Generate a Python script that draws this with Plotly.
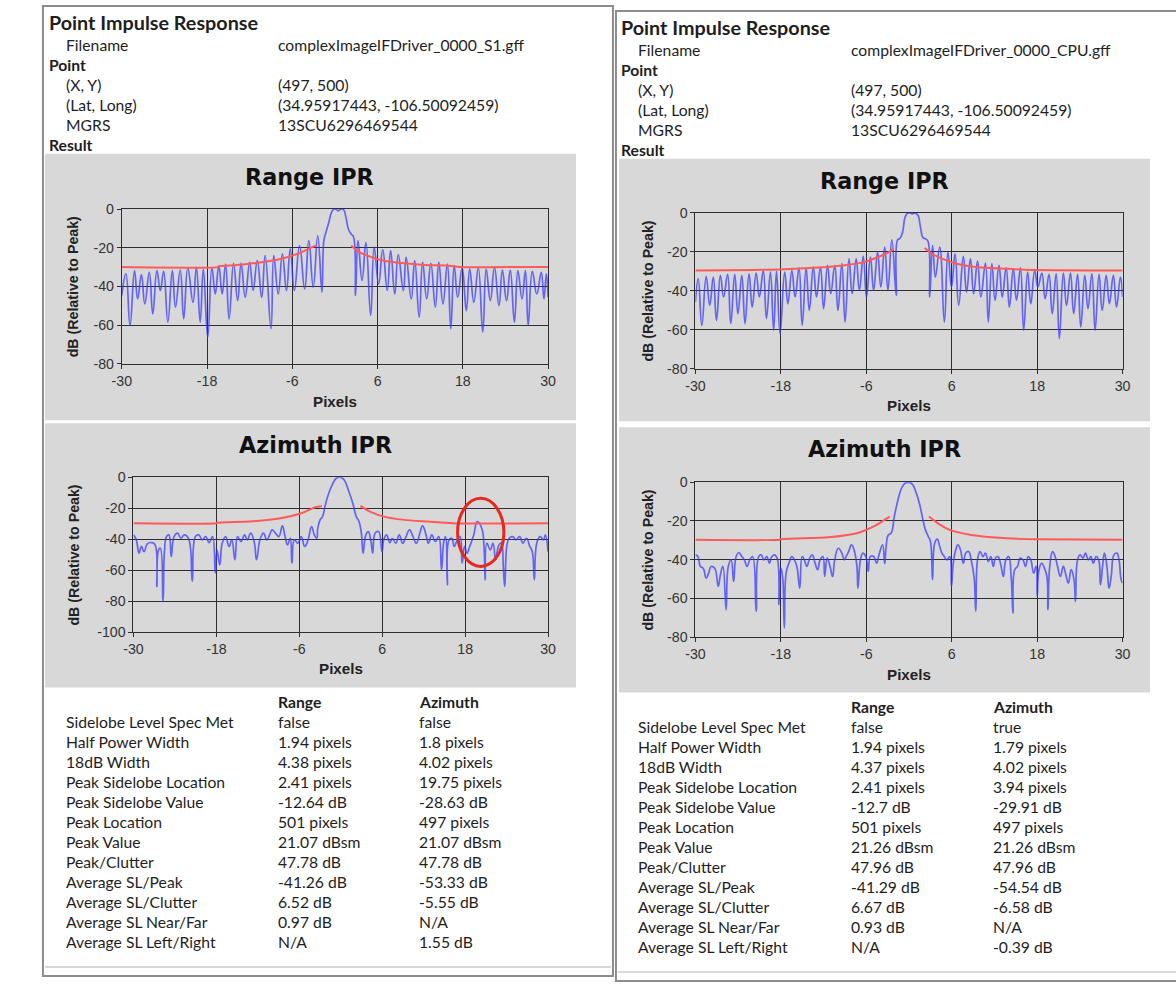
import plotly.graph_objects as go

# ---------------- data ----------------
X_TICKS = [-30, -18, -6, 6, 18, 30]
X_TICKTEXT = ["-30", "-18", "-6", "6", "18", "30"]
Y_TICKS_80 = [0, -20, -40, -60, -80]
Y_TICKTEXT_80 = ["0", "-20", "-40", "-60", "-80"]
Y_TICKS_100 = [0, -20, -40, -60, -80, -100]
Y_TICKTEXT_100 = ["0", "-20", "-40", "-60", "-80", "-100"]

# Left (S1) Range IPR
LR_X = [-30.0, -29.42, -28.84, -28.21, -27.77, -27.24, -26.76, -26.13, -25.64, -25.06, -24.58, -24.10, -23.52,
        -22.89, -22.45, -21.77, -21.29, -20.71, -19.98, -19.50, -18.97, -18.53, -17.90, -17.32, -16.84, -16.35,
        -15.87, -15.39, -14.90, -14.27, -13.69, -13.21, -12.63, -12.00, -11.52, -10.93, -10.31, -9.82, -9.00,
        -8.61, -7.98, -7.40, -6.82, -6.29, -5.71, -4.98, -4.26, -3.68, -3.05, -2.42, -1.83,
        -1.55, -1.26, -0.87, -0.48, -0.14, 0.20, 0.49, 0.82, 1.21, 1.55, 1.89, 2.28, 2.61,
        2.90, 3.24, 3.82, 4.36, 5.03, 5.52, 6.15, 6.73, 7.36, 7.84, 8.42, 8.91, 9.63, 10.02, 10.74, 11.23,
        11.86, 12.34, 12.92, 13.50, 14.13, 14.62, 15.20, 15.83, 16.31, 16.79, 17.28, 17.91, 18.49, 18.97,
        19.55, 20.18, 20.81, 21.29, 21.87, 22.46, 23.09, 23.57, 24.15, 24.68, 25.26, 25.75, 26.33, 26.81,
        27.20, 27.78, 28.41, 29.04, 29.42, 29.76, 30.0]
LR_Y = [-44.7, -33.5, -60.2, -31.8, -46.4, -33.9, -49.0, -32.7, -54.2, -31.8, -42.1, -32.2, -58.5,
        -31.8, -50.7, -31.5, -56.8, -30.4, -48.2, -30.1, -58.5, -31.0, -66.2, -30.4, -43.9, -29.2,
        -43.9, -28.4, -56.8, -28.0, -47.3, -28.0, -45.6, -27.5, -42.1, -26.7, -45.6, -24.1, -61.9,
        -24.1, -43.9, -23.2, -42.1, -20.6, -42.1, -18.9, -41.3, -16.3, -40.4, -13.8, -43.0,
        -16.0, -12.0, -6.9, -1.7, 0.0, -0.2, -0.9, 0.0, -0.3, -4.3, -10.3, -12.9, -14.3,
        -44.7, -16.3, -37.0, -17.2, -55.0, -19.8, -38.7, -21.0, -42.1, -21.5, -43.9, -23.6, -42.1, -24.9,
        -46.4, -26.7, -55.9, -27.5, -46.4, -28.0, -50.7, -27.5, -49.0, -28.4, -61.9, -29.2, -45.6, -30.4,
        -52.5, -31.0, -48.2, -30.4, -63.6, -31.0, -47.3, -30.1, -49.9, -31.5, -47.3, -31.5, -58.5, -31.8,
        -46.4, -31.8, -60.2, -32.2, -43.9, -32.7, -46.4, -33.5, -45.6]
LR_RED_X = [-30.0, -16.5, -16.2, -14.0, -12.0, -10.55, -7.64, -4.74, -3.29, -2.56, None,
            2.28, 3.49, 4.94, 6.87, 9.78, 12.68, 16.07, 17.52, 30.0]
LR_RED_Y = [-30.0, -30.0, -29.4, -29.0, -28.2, -27.6, -25.8, -22.4, -19.8, -18.6, None,
            -18.9, -22.4, -24.6, -26.7, -28.0, -28.9, -29.3, -29.9, -29.9]

# Left (S1) Azimuth IPR
LA_X = [-30.0, -29.60, -29.20, -28.86, -28.46, -28.01, -27.36, -26.87, -26.62, -26.37, -26.12, -25.72, -25.52,
        -25.22, -24.88, -24.53, -24.13, -23.63, -23.13, -22.64, -22.04, -21.49, -21.04, -20.55, -20.05, -19.55,
        -19.06, -18.56, -18.16, -17.91, -17.51, -17.16, -16.67, -16.17, -15.77, -15.32, -14.93, -14.43, -13.93,
        -13.53, -13.04, -12.54, -12.19, -11.69, -11.19, -10.70, -10.30, -9.95, -9.45, -8.96, -8.46, -8.06,
        -7.71, -7.31, -7.07, -6.72, -6.22, -5.72, -5.22, -4.73, -4.23, -3.83, -3.48,
        -3.33, -2.99, -2.64, -2.24, -1.74, -1.24, -0.65, 0.0, 0.50, 1.09, 1.74, 2.24, 2.64, 2.98, 3.23,
        3.63, 3.98, 4.33, 4.63, 4.97, 5.47, 5.97, 6.22, 6.62, 7.11, 7.46, 7.96, 8.46, 8.95, 9.45, 9.95,
        10.45, 10.94, 11.44, 11.84, 12.34, 12.69, 13.18, 13.68, 14.18, 14.58, 14.92, 15.17, 15.42, 15.67,
        16.07, 16.42, 16.77, 17.26, 17.56, 17.91, 18.26, 18.66, 19.25, 19.75, 20.40, 20.75, 20.89, 21.14,
        21.64, 22.04, 22.39, 22.64, 22.89, 23.23, 23.53, 23.73, 24.03, 24.38, 24.87, 25.37, 25.87, 26.37,
        26.86, 27.36, 27.71, 28.01, 28.36, 28.85, 29.35, 29.60, 30.0]
LA_Y = [-37.2, -40.4, -49.0, -44.7, -48.0, -43.0, -42.2, -43.7, -70.6, -46.9, -45.8, -80.2, -48.0,
        -38.3, -37.2, -51.2, -38.3, -36.1, -39.4, -37.2, -39.4, -67.3, -38.3, -37.2, -40.4, -38.3,
        -42.2, -38.3, -62.0, -47.0, -56.6, -42.6, -38.3, -44.7, -40.4, -53.3, -38.3, -41.5, -37.2,
        -40.4, -36.1, -41.5, -53.3, -40.4, -36.1, -40.4, -37.2, -34.0, -36.1, -38.3, -31.4, -38.3,
        -43.7, -39.4, -55.5, -40.4, -42.6, -38.3, -44.7, -40.4, -31.8, -37.2, -39.4,
        -32.9, -27.5, -25.4, -17.9, -10.3, -4.9, -0.6, 0.0, -1.7, -8.2, -16.8, -25.4, -28.6, -36.1, -49.0,
        -37.2, -35.1, -40.4, -49.0, -36.1, -35.1, -48.0, -40.4, -37.2, -42.2, -39.4, -42.6, -37.2, -42.6,
        -38.3, -34.0, -38.3, -42.6, -36.1, -31.4, -37.2, -42.6, -37.2, -41.5, -38.3, -59.8, -41.5, -38.3,
        -69.5, -40.4, -39.4, -44.7, -41.5, -38.3, -55.5, -44.7, -49.0, -44.7, -37.2, -28.6, -32.9, -46.9,
        -66.3, -42.6, -46.9, -42.6, -53.3, -48.0, -43.7, -42.6, -58.7, -70.6, -44.7, -39.4, -38.3, -40.4,
        -38.3, -42.6, -39.4, -44.7, -48.0, -66.3, -42.6, -38.3, -40.4, -37.2, -48.0]
LA_RED_X = [-30.0, -18.0, -17.9, -13.18, -8.71, -5.72, -3.73, -2.74, None,
            2.84, 4.23, 6.22, 9.2, 12.69, 16.17, 30.0]
LA_RED_Y = [-29.7, -29.7, -29.4, -28.6, -26.5, -23.2, -19.4, -18.5, None,
            -18.5, -22.2, -25.4, -27.5, -28.6, -29.7, -29.7]
# highlight ellipse around the peak sidelobe (x0, x1, y0, y1) in data units
LA_CIRCLE = [16.9, 23.6, -57.6, -13.6]

# Right (CPU) Range IPR
RR_X = [-30.0, -29.60, -29.10, -28.49, -27.99, -27.49, -27.04, -26.49, -26.04, -25.48, -25.03, -24.48, -24.03,
        -23.48, -23.03, -22.47, -22.02, -21.47, -21.02, -20.47, -20.02, -19.46, -19.01, -18.61, -18.11, -17.46,
        -17.01, -16.45, -16.00, -15.45, -15.00, -14.45, -14.00, -13.44, -12.99, -12.44, -11.99, -11.44, -10.99,
        -10.43, -9.98, -9.43, -8.98, -8.43, -7.98, -7.42, -6.97, -6.42, -5.97, -5.42, -4.97, -4.41, -3.96,
        -3.41, -2.96, -2.41, -1.80,
        -1.60, -1.30, -0.90, -0.55, -0.20, 0.10, 0.45, 0.80, 1.21, 1.61, 1.96, 2.31, 2.66,
        2.91, 3.31, 3.71, 4.32, 4.97, 5.47, 5.97, 6.47, 6.98, 7.63, 8.08, 8.63, 9.08, 9.63, 10.09, 10.74,
        11.14, 11.64, 12.09, 12.64, 13.10, 13.65, 14.10, 14.65, 15.10, 15.65, 16.11, 16.66, 17.11, 17.66,
        18.11, 18.66, 19.12, 19.67, 20.12, 20.67, 21.12, 21.68, 22.13, 22.68, 23.13, 23.68, 24.13, 24.69,
        25.14, 25.69, 26.14, 26.69, 27.14, 27.70, 28.15, 28.70, 29.15, 29.70, 30.0]
RR_Y = [-45.8, -33.8, -57.8, -32.6, -47.5, -33.0, -55.2, -32.1, -43.2, -31.6, -56.9, -31.6, -51.8,
        -32.1, -56.9, -31.3, -48.4, -30.9, -43.2, -29.6, -54.3, -30.4, -60.3, -29.9, -62.0, -30.4,
        -46.7, -29.6, -43.2, -28.2, -57.8, -28.2, -50.1, -27.9, -43.2, -27.9, -49.2, -27.0, -41.5,
        -27.0, -50.1, -26.1, -56.1, -23.6, -41.5, -23.6, -39.8, -22.4, -43.2, -22.7, -39.8, -20.2, -38.1,
        -17.6, -39.8, -13.8, -42.4,
        -13.8, -13.3, -9.9, -2.2, -0.2, 0.0, -0.5, -0.2, -0.9, -7.3, -12.8, -13.3, -14.5,
        -43.2, -16.7, -33.0, -17.6, -56.1, -20.2, -38.1, -21.0, -47.5, -22.4, -40.7, -23.6, -41.5, -24.8,
        -43.2, -25.8, -56.1, -26.1, -44.9, -27.0, -43.2, -28.2, -48.4, -28.7, -44.9, -28.2, -60.3, -30.4,
        -46.7, -29.6, -38.1, -30.9, -44.1, -31.6, -51.8, -31.3, -64.6, -30.9, -47.5, -30.9, -51.8, -31.6,
        -58.6, -32.1, -49.2, -31.3, -60.3, -31.6, -50.1, -32.1, -46.7, -32.1, -48.4, -33.0, -43.2]
RR_RED_X = [-30.0, -18.36, -13.34, -9.33, -6.32, -4.31, -2.81, -2.21, None,
            2.21, 3.21, 4.72, 6.72, 9.73, 13.75, 16.26, 30.0]
RR_RED_Y = [-29.6, -29.1, -28.2, -27.0, -25.3, -22.7, -20.2, -18.5, None,
            -18.1, -21.0, -23.6, -26.1, -27.9, -28.7, -29.2, -29.6]

# Right (CPU) Azimuth IPR
RA_X = [-30.0, -29.65, -29.30, -28.90, -28.49, -28.14, -27.79, -27.29, -26.79, -26.49, -26.14, -25.69, -25.38,
        -24.98, -24.63, -24.28, -23.88, -23.48, -23.13, -22.73, -22.37, -21.97, -21.47, -21.12, -20.77, -20.37,
        -19.97, -19.61, -19.26, -18.86, -18.46, -18.26, -18.01, -17.76, -17.51, -17.26, -16.86, -16.45, -16.10,
        -15.75, -15.35, -15.00, -14.70, -14.35, -13.95, -13.59, -13.19, -12.84, -12.49, -12.09, -11.84, -11.49,
        -11.09, -10.73, -10.43, -9.93, -9.43, -9.08, -8.83, -8.48, -8.08, -7.72, -7.32, -7.17, -6.82, -6.47,
        -6.07, -5.72, -5.42, -4.97, -4.56, -4.21, -3.71, -3.41, -3.21,
        -2.91, -2.51, -2.06, -1.55, -1.05, -0.55, -0.05, 0.45, 0.95, 1.46, 1.96, 2.31, 2.71, 3.01,
        3.31, 3.61, 3.97, 4.32, 4.62, 4.97, 5.32, 5.72, 5.97, 6.22, 6.57, 6.87, 7.23, 7.63, 7.98, 8.38,
        8.73, 9.13, 9.38, 9.63, 9.99, 10.39, 10.74, 11.14, 11.49, 11.84, 12.14, 12.49, 12.85, 13.25, 13.60,
        14.00, 14.35, 14.60, 14.85, 15.25, 15.60, 16.01, 16.36, 16.76, 17.11, 17.51, 17.86, 18.01, 18.26,
        18.66, 19.02, 19.37, 19.52, 19.77, 20.17, 20.52, 20.87, 21.27, 21.67, 22.03, 22.38, 22.78, 23.18,
        23.38, 23.68, 24.03, 24.43, 24.79, 25.19, 25.54, 25.89, 26.29, 26.64, 26.89, 27.19, 27.45, 27.80,
        28.10, 28.40, 28.80, 29.20, 29.50, 29.80, 30.0]
RA_Y = [-37.5, -38.4, -43.5, -44.4, -49.5, -47.0, -43.5, -44.4, -53.8, -47.8, -43.5, -65.9, -43.5,
        -40.1, -51.3, -38.4, -36.3, -38.4, -40.1, -43.5, -40.1, -38.4, -66.7, -38.4, -37.5, -40.1,
        -38.4, -41.8, -38.4, -37.5, -40.1, -63.3, -44.4, -48.7, -75.3, -47.0, -41.8, -38.4, -40.1,
        -43.5, -54.7, -38.4, -40.1, -43.5, -39.2, -37.5, -41.8, -45.2, -40.1, -38.4, -48.7, -39.2,
        -43.5, -48.7, -40.1, -34.1, -36.6, -40.1, -38.4, -35.8, -32.3, -34.9, -43.5, -54.7, -40.1, -36.6,
        -38.4, -46.1, -38.4, -38.4, -41.8, -37.5, -32.3, -42.1, -33.2,
        -27.2, -26.3, -17.7, -9.1, -3.1, -0.5, 0.0, -0.9, -4.8, -10.8, -19.4, -24.6, -28.0, -30.6,
        -50.4, -31.5, -29.4, -33.2, -36.6, -38.4, -40.1, -38.4, -53.8, -41.8, -34.9, -32.3, -34.9, -41.8,
        -36.6, -35.8, -40.1, -48.7, -66.7, -40.1, -35.8, -38.4, -36.6, -40.9, -38.4, -43.5, -39.2, -38.4,
        -41.8, -48.7, -40.1, -38.4, -48.7, -67.6, -45.2, -43.5, -39.2, -40.1, -43.5, -38.4, -40.1, -47.0,
        -43.5, -59.0, -45.2, -41.8, -44.4, -48.7, -65.9, -43.5, -35.8, -38.4, -43.5, -48.7, -43.5, -47.8,
        -52.1, -45.2, -50.4, -61.6, -40.1, -37.5, -39.2, -36.6, -40.1, -38.4, -41.8, -38.4, -40.1, -53.0,
        -43.5, -36.6, -43.5, -54.7, -48.7, -37.5, -36.6, -40.1, -50.4, -52.1]
RA_RED_X = [-30.0, -18.2, -18.0, -11.34, -7.32, -4.81, -2.71, None,
            2.81, 3.71, 5.72, 8.73, 13.75, 17.76, 30.0]
RA_RED_Y = [-29.7, -29.7, -29.4, -28.4, -26.3, -22.5, -17.7, None,
            -17.7, -20.3, -24.6, -27.2, -28.9, -29.4, -29.7]

# Text content
HEADER_TITLE = "Point Impulse Response"
HEADER_KEYS = ["Filename", "(X, Y)", "(Lat, Long)", "MGRS"]
LEFT_HEADER_VALS = ["complexImageIFDriver_0000_S1.gff", "(497, 500)", "(34.95917443, -106.50092459)", "13SCU6296469544"]
RIGHT_HEADER_VALS = ["complexImageIFDriver_0000_CPU.gff", "(497, 500)", "(34.95917443, -106.50092459)", "13SCU6296469544"]
TABLE_COLS = ["Range", "Azimuth"]
ROW_LABELS = ["Sidelobe Level Spec Met", "Half Power Width", "18dB Width", "Peak Sidelobe Location",
              "Peak Sidelobe Value", "Peak Location", "Peak Value", "Peak/Clutter", "Average SL/Peak",
              "Average SL/Clutter", "Average SL Near/Far", "Average SL Left/Right"]
LEFT_RANGE_VALS = ["false", "1.94 pixels", "4.38 pixels", "2.41 pixels", "-12.64 dB", "501 pixels",
                   "21.07 dBsm", "47.78 dB", "-41.26 dB", "6.52 dB", "0.97 dB", "N/A"]
LEFT_AZ_VALS = ["false", "1.8 pixels", "4.02 pixels", "19.75 pixels", "-28.63 dB", "497 pixels",
                "21.07 dBsm", "47.78 dB", "-53.33 dB", "-5.55 dB", "N/A", "1.55 dB"]
RIGHT_RANGE_VALS = ["false", "1.94 pixels", "4.37 pixels", "2.41 pixels", "-12.7 dB", "501 pixels",
                    "21.26 dBsm", "47.96 dB", "-41.29 dB", "6.67 dB", "0.93 dB", "N/A"]
RIGHT_AZ_VALS = ["true", "1.79 pixels", "4.02 pixels", "3.94 pixels", "-29.91 dB", "497 pixels",
                 "21.26 dBsm", "47.96 dB", "-54.54 dB", "-6.58 dB", "N/A", "-0.39 dB"]

# ---------------- layout helpers ----------------
W, H = 1176, 992
# the photographed page shows the figure slightly inset/scaled; positions below are
# given in reference-picture pixels and mapped back to figure pixels
SX, OX, SY, OY = 0.9864, 10.0, 0.9859, 7.0


def px(x):
    return ((x - OX) / SX) / W


def py(y):
    return 1 - ((y - OY) / SY) / H


def fs(s):
    return s / SX


BLUE = "rgba(55,55,255,0.72)"
RED = "#ff5a5a"
GRID = "#2e2e2e"
BOX = "#d8d8d8"
TXT = "#1e1e1e"
TFONT = "Lato"

charts = [
    dict(x=LR_X, y=LR_Y, rx=LR_RED_X, ry=LR_RED_Y, plot=(122, 549, 208.5, 363.5), ymin=-80,
         yt=(Y_TICKS_80, Y_TICKTEXT_80), box=(45, 577, 153, 420), title="Range IPR", ty=176, pyl=401),
    dict(x=LA_X, y=LA_Y, rx=LA_RED_X, ry=LA_RED_Y, plot=(133.7, 549, 477.3, 632.3), ymin=-100,
         yt=(Y_TICKS_100, Y_TICKTEXT_100), box=(45, 577, 423, 688), title="Azimuth IPR", ty=445, pyl=669),
    dict(x=RR_X, y=RR_Y, rx=RR_RED_X, ry=RR_RED_Y, plot=(696.6, 1124.5, 212.3, 368.3), ymin=-80,
         yt=(Y_TICKS_80, Y_TICKTEXT_80), box=(620, 1152, 158, 421), title="Range IPR", ty=180, pyl=405),
    dict(x=RA_X, y=RA_Y, rx=RA_RED_X, ry=RA_RED_Y, plot=(696.6, 1124.5, 482.3, 637.3), ymin=-80,
         yt=(Y_TICKS_80, Y_TICKTEXT_80), box=(620, 1152, 427, 693), title="Azimuth IPR", ty=449, pyl=675),
]

fig = go.Figure()
shapes = []
annotations = []
layout_axes = {}

for i, c in enumerate(charts, start=1):
    xa = "x" if i == 1 else f"x{i}"
    ya = "y" if i == 1 else f"y{i}"
    fig.add_trace(go.Scatter(x=c["x"], y=c["y"], mode="lines", xaxis=xa, yaxis=ya,
                             line=dict(color=BLUE, width=1.7, shape="spline", smoothing=1.3),
                             showlegend=False, hoverinfo="skip"))
    fig.add_trace(go.Scatter(x=c["rx"], y=c["ry"], mode="lines", xaxis=xa, yaxis=ya,
                             line=dict(color=RED, width=2, shape="spline", smoothing=0.6),
                             connectgaps=False, showlegend=False, hoverinfo="skip"))
    x0, x1, yt, yb = c["plot"]
    key = "" if i == 1 else str(i)
    layout_axes[f"xaxis{key}"] = dict(
        domain=[px(x0), px(x1)], range=[-30, 30], anchor=ya, tickvals=X_TICKS, ticktext=X_TICKTEXT,
        showgrid=True, gridcolor=GRID, gridwidth=1, showline=True, linecolor=GRID, linewidth=1,
        mirror=True, ticks="outside", ticklen=4, tickcolor=GRID, zeroline=False, fixedrange=True,
        tickfont=dict(family="Liberation Sans", size=fs(14), color="#333333"))
    layout_axes[f"yaxis{key}"] = dict(
        domain=[py(yb), py(yt)], range=[c["ymin"], 0], anchor=xa, tickvals=c["yt"][0], ticktext=c["yt"][1],
        showgrid=True, gridcolor=GRID, gridwidth=1, showline=True, linecolor=GRID, linewidth=1,
        mirror=True, ticks="outside", ticklen=4, tickcolor=GRID, zeroline=False, fixedrange=True,
        tickfont=dict(family="Liberation Sans", size=fs(14), color="#333333"))
    bx0, bx1, by0, by1 = c["box"]
    shapes.append(dict(type="rect", xref="paper", yref="paper", x0=px(bx0), x1=px(bx1), y0=py(by1), y1=py(by0),
                       fillcolor=BOX, line=dict(width=0), layer="below"))
    annotations.append(dict(text=c["title"], x=px((x0 + x1) / 2 - 25),
                            y=py(c["ty"]), xref="paper", yref="paper", showarrow=False,
                            xanchor="center", yanchor="middle",
                            font=dict(family="DejaVu Sans", size=fs(22), color="#111111", weight="bold")))
    annotations.append(dict(text="<b>Pixels</b>", x=px((x0 + x1) / 2), y=py(c["pyl"]), xref="paper", yref="paper",
                            showarrow=False, xanchor="center", yanchor="middle",
                            font=dict(family="Liberation Sans", size=fs(15), color="#222222")))
    annotations.append(dict(text="<b>dB (Relative to Peak)</b>", x=px(bx0 + 29), y=py((yt + yb) / 2),
                            xref="paper", yref="paper", showarrow=False, textangle=-90,
                            xanchor="center", yanchor="middle",
                            font=dict(family="Liberation Sans", size=fs(14), color="#222222")))

# red highlight ellipse on left azimuth chart
shapes.append(dict(type="circle", xref="x2", yref="y2", x0=LA_CIRCLE[0], x1=LA_CIRCLE[1],
                   y0=LA_CIRCLE[2], y1=LA_CIRCLE[3], line=dict(color="#e8281e", width=3)))

# panel frames
for (fx0, fx1, fy0, fy1) in [(43, 614, 5, 977), (617, 1200, 10, 982)]:
    shapes.append(dict(type="rect", xref="paper", yref="paper", x0=px(fx0), x1=px(fx1), y0=py(fy1), y1=py(fy0),
                       line=dict(color="#8c8c8c", width=2), fillcolor="rgba(0,0,0,0)", layer="below"))
    shapes.append(dict(type="line", xref="paper", yref="paper", x0=px(fx0 + 2), x1=px(fx1 - 2),
                       y0=py(fy1 - 9), y1=py(fy1 - 9), line=dict(color="#d8d8d8", width=2), layer="below"))


def txt(s, x, y, bold=False, size=15.5):
    annotations.append(dict(text=f"<b>{s}</b>" if bold else s, x=px(x), y=py(y), xref="paper", yref="paper",
                            showarrow=False, xanchor="left", yanchor="middle",
                            font=dict(family=TFONT, size=fs(size), color=TXT)))


# headers
for (lx, vx, y0, vals) in [(47, 276, 21, LEFT_HEADER_VALS), (620, 850, 26, RIGHT_HEADER_VALS)]:
    txt(HEADER_TITLE, lx, y0, bold=True, size=19.5)
    txt(HEADER_KEYS[0], lx + 17, y0 + 23)
    txt(vals[0], vx, y0 + 23)
    txt("Point", lx, y0 + 43, bold=True)
    for k in range(1, 4):
        txt(HEADER_KEYS[k], lx + 17, y0 + 43 + 20 * k)
        txt(vals[k], vx, y0 + 43 + 20 * k)
    txt("Result", lx, y0 + 123, bold=True)

# tables
for (lx, rx, ax, y0, rv, av) in [(64, 276, 418, 702, LEFT_RANGE_VALS, LEFT_AZ_VALS),
                                   (637, 850, 993, 707, RIGHT_RANGE_VALS, RIGHT_AZ_VALS)]:
    txt(TABLE_COLS[0], rx, y0, bold=True)
    txt(TABLE_COLS[1], ax, y0, bold=True)
    for k, lab in enumerate(ROW_LABELS):
        yy = y0 + 20 * (k + 1)
        txt(lab, lx, yy)
        txt(rv[k], rx, yy)
        txt(av[k], ax, yy)

fig.update_layout(width=W, height=H, margin=dict(l=0, r=0, t=0, b=0),
                  paper_bgcolor="white", plot_bgcolor="rgba(0,0,0,0)",
                  shapes=shapes, annotations=annotations, showlegend=False, **layout_axes)

fig.write_html("out.html", config={"displayModeBar": False},
               post_script="document.body.style.margin='0px';document.body.style.overflow='hidden';")
